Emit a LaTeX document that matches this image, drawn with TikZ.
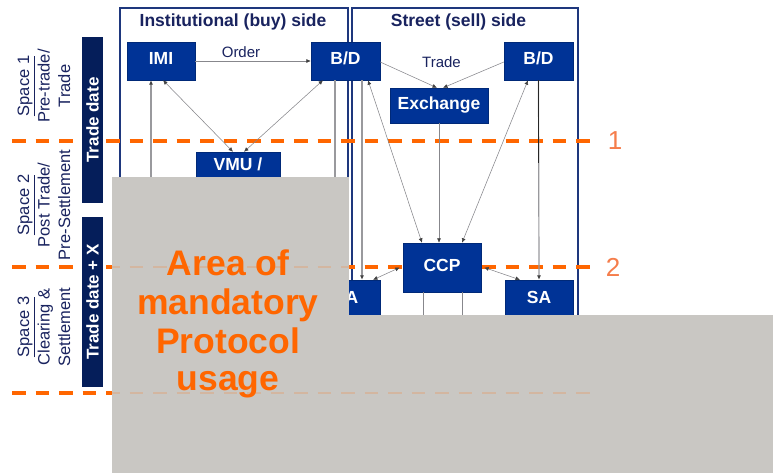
\documentclass[tikz,border=0pt]{standalone}
\usepackage{fontspec}
\setmainfont{Liberation Sans}
\usetikzlibrary{arrows.meta}
\definecolor{nodeblue}{RGB}{0,51,150}
\definecolor{barnavy}{RGB}{5,30,90}
\definecolor{framenavy}{RGB}{30,55,125}
\definecolor{textnavy}{RGB}{25,35,95}
\definecolor{orangeA}{RGB}{255,102,0}
\definecolor{orangeL}{RGB}{245,125,75}
\definecolor{maskgray}{RGB}{201,199,195}
\definecolor{linegray}{RGB}{135,135,140}
\colorlet{fadeorange}{maskgray!82!orangeA}
\tikzset{
  tipA/.tip={Latex[length=4.5pt,width=4pt,color=black!75]},
  box/.style={fill=nodeblue, draw=nodeblue!80!black, line width=0.4pt, text=white,
    font=\bfseries\fontsize{17.5}{20}\selectfont, inner sep=0pt,
    text height=0.72em, text depth=0pt},
  frame/.style={draw=framenavy, line width=1.3pt},
  title/.style={text=textnavy, font=\bfseries\fontsize{17.5}{20}\selectfont, inner sep=0pt, anchor=base},
  lbl/.style={text=textnavy, font=\fontsize{15}{18}\selectfont, inner sep=0pt},
  conn/.style={draw=linegray, line width=0.55pt},
  vline/.style={draw=linegray!85, line width=1.2pt},
  odash/.style={draw=orangeA, line width=3.2pt, dash pattern=on 13.5pt off 10pt},
  numlbl/.style={text=orangeL, font=\fontsize{26}{30}\selectfont, inner sep=0pt},
  sidelbl/.style={text=textnavy, font=\fontsize{16.5}{20.5}\selectfont, align=center, inner sep=0pt, rotate=90},
  bar/.style={fill=barnavy, text=white, font=\bfseries\fontsize{17}{20}\selectfont, inner sep=0pt, rotate=90},
  area/.style={text=orangeA, font=\bfseries\fontsize{35.5}{39}\selectfont, inner sep=0pt, anchor=base},
}
\begin{document}
\begin{tikzpicture}[x=1pt,y=-1pt]
\useasboundingbox (0,0) rectangle (773,473);
\fill[white] (0,0) rectangle (773,473);

% side frames
\draw[frame] (120,8) rectangle (348,430);
\draw[frame] (352,8) rectangle (578,430);
\node[title] (T1) at (233,27) {Institutional (buy) side};
\node[title] (T2) at (458.5,27) {Street (sell) side};

% left labels
\node[sidelbl] (S1) at (44,86) {\underline{Space 1}\\Pre-trade/\\Trade};
\node[sidelbl] (S2) at (44,205) {\underline{Space 2}\\Post Trade/\\Pre-Settlement};
\node[sidelbl] (S3) at (44,327) {\underline{Space 3}\\Clearing \&\\Settlement};

% dashed separators
\coordinate (d1L) at (12,141); \coordinate (d1R) at (590,141);
\coordinate (d2L) at (12,267); \coordinate (d2R) at (590,267);
\coordinate (d3L) at (12,393); \coordinate (d3R) at (590,393);
\draw[odash] (d1L) -- (d1R);
\draw[odash] (d2L) -- (d2R);
\draw[odash] (d3L) -- (d3R);
\node[numlbl] (N1) at (615,141) {1};
\node[numlbl] (N2) at (613,267) {2};

% time bars
\node[bar, minimum width=166pt, minimum height=21pt] (B1) at (92.5,120) {Trade date};
\node[bar, minimum width=170pt, minimum height=21pt] (B2) at (92.5,302) {Trade date + X};

% nodes
\node[box, minimum width=68pt, minimum height=38pt] (IMI) at (161,61) {IMI};
\node[box, minimum width=69pt, minimum height=38pt] (BD1) at (345.5,61) {B/D};
\node[box, minimum width=69pt, minimum height=38pt] (BD2) at (538.5,61) {B/D};
\node[box, minimum width=98pt, minimum height=35pt] (EX) at (439,105.5) {Exchange};
\node[box, minimum width=84pt, minimum height=30pt] (VMU) at (238,167) {VMU /};
\node[box, minimum width=78pt, minimum height=49pt] (CCP) at (442,267.5) {CCP};
\node[box, minimum width=68pt, minimum height=40pt] (SA1) at (346,300) {SA};
\node[box, minimum width=68pt, minimum height=40pt] (SA2) at (539,300) {SA};

% connectors
\draw[conn,-{tipA}] (IMI.east) -- (BD1.west);
\node[lbl] (ord) at (241,52) {Order};
\draw[conn,-{tipA}] ([yshift=-1pt]BD1.east) -- ([xshift=-2pt]EX.north);
\draw[conn,-{tipA}] ([yshift=-1pt]BD2.west) -- ([xshift=4pt]EX.north);
\node[lbl] (trd) at (441.5,62.5) {Trade};
\draw[conn,{tipA}-{tipA}] ([xshift=2pt]IMI.south) -- ([xshift=-5pt]VMU.north);
\draw[conn,{tipA}-{tipA}] ([xshift=-22.5pt]BD1.south) -- ([xshift=6pt]VMU.north);
\coordinate (imiD) at (151,260);
\draw[vline,{tipA}-] (IMI.south -| imiD) -- (imiD);
\coordinate (bd1D) at (335,300);
\draw[vline] (BD1.south -| bd1D) -- (bd1D);
\draw[vline,-{tipA}] ([xshift=16.5pt]BD1.south) -- ([xshift=16pt]SA1.north);
\draw[conn,{tipA}-{tipA}] ([xshift=22.5pt]BD1.south) -- ([xshift=-20pt]CCP.north);
\draw[conn,-{tipA}] (EX.south) -- (EX.south |- CCP.north);
\draw[conn,{tipA}-{tipA}] ([xshift=-10.5pt]BD2.south) -- ([xshift=20pt]CCP.north);
\draw[vline,-{tipA}] (BD2.south) -- (SA2.north);
\coordinate (bd2M) at (538.5,163);
\draw[draw=black!85, line width=1.2pt] (BD2.south) -- (bd2M);
\draw[conn,{tipA}-{tipA}] ([xshift=27pt]SA1.north) -- ([xshift=-3pt]CCP.west);
\draw[conn,{tipA}-{tipA}] ([xshift=3pt]CCP.east) -- ([xshift=-19pt]SA2.north);
\coordinate (ccpD1) at (423,340); \coordinate (ccpD2) at (462,340);
\draw[conn] (CCP.south -| ccpD1) -- (ccpD1);
\draw[conn] (CCP.south -| ccpD2) -- (ccpD2);

% grey mask
\fill[maskgray] (112,177) rectangle (349,473);
\fill[maskgray] (112,315) rectangle (773,473);
\begin{scope}
\clip (112,177) rectangle (349,473) (112,315) rectangle (773,473);
\draw[odash, draw=fadeorange, line width=2pt] (d2L) -- (d2R);
\draw[odash, draw=fadeorange, line width=2pt] (d3L) -- (d3R);
\end{scope}

% overlay text
\node[area] (A1) at (228,275) {Area of};
\node[area] (A2) at (228,314) {mandatory};
\node[area] (A3) at (228,353) {Protocol};
\node[area] (A4) at (228,390) {usage};
\end{tikzpicture}
\end{document}
